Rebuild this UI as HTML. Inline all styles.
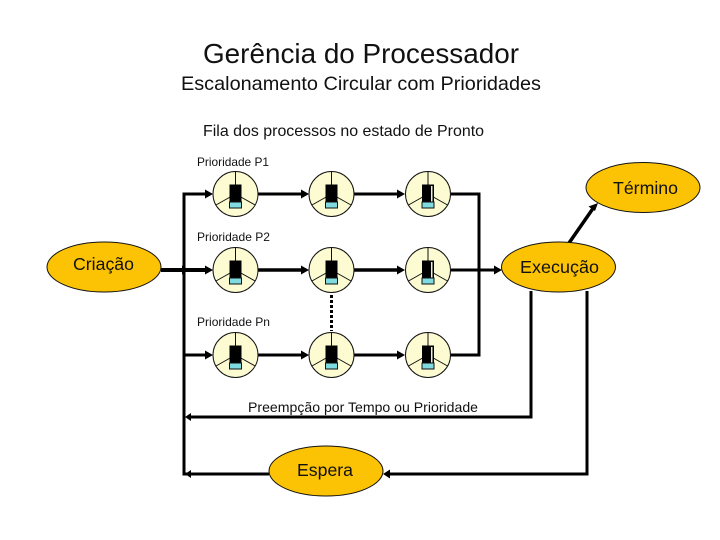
<!DOCTYPE html>
<html><head><meta charset="utf-8"><style>
html,body{margin:0;padding:0;background:#fff}
svg{display:block}
text{font-family:"Liberation Sans",sans-serif;fill:#111}
</style></head><body>
<svg width="720" height="540" viewBox="0 0 720 540" xmlns="http://www.w3.org/2000/svg">
<defs>
<g id="q">
<circle r="22.5" fill="#fdfbd2" stroke="#111" stroke-width="1"/>
<path d="M0,-22.5V0M0,0L-19.5,11M0,0L19.5,11" stroke="#111" stroke-width="1" fill="none"/>
<rect x="-6" y="-9.5" width="12" height="22" fill="#000"/>
<rect x="-6" y="8" width="12" height="6" fill="#7fdbe0" stroke="#111" stroke-width="1"/>
</g>
<g id="q3">
<circle r="22.5" fill="#fdfbd2" stroke="#111" stroke-width="1"/>
<path d="M0,-22.5V0M0,0L-19.5,11M0,0L19.5,11" stroke="#111" stroke-width="1" fill="none"/>
<rect x="-6" y="-9.5" width="12" height="22" fill="#000"/>
<rect x="3" y="-8" width="1.5" height="17" fill="#e8f4d8"/>
<rect x="-6" y="8" width="12" height="6" fill="#7fdbe0" stroke="#111" stroke-width="1"/>
</g>
</defs>

<g fill="none" stroke="#000" stroke-width="3">
<path d="M209,194H184V474H269"/>
<path d="M161,270H209" stroke-width="4"/>
<path d="M184,355H209"/>
<path d="M258,194H305M354,194H401"/>
<path d="M258,270H305M354,270H401" stroke-width="3.5"/>
<path d="M258,355H305M354,355H401"/>
<path d="M451,194H479V355H451"/>
<path d="M451,270H496"/>
<path d="M531,291V417H190"/>
<path d="M587,291V474H390"/>
<path d="M569,243L594,207" stroke-width="3.5"/>
<path d="M331.5,295V331" stroke-dasharray="3 2"/>
</g>
<g fill="#000">
<path d="M213,194l-8,-4.5v9z"/><path d="M309,194l-8,-4.5v9z"/><path d="M405,194l-8,-4.5v9z"/>
<path d="M213,270l-8,-4.5v9z"/><path d="M309,270l-8,-4.5v9z"/><path d="M405,270l-8,-4.5v9z"/>
<path d="M213,355l-8,-4.5v9z"/><path d="M309,355l-8,-4.5v9z"/><path d="M405,355l-8,-4.5v9z"/>
<path d="M189,270l-7,-4.5v9z"/>
<path d="M502,270l-8,-4.5v9z"/>
<path d="M185,417l6,-4v8z"/>
<path d="M185,474l6,-4v8z"/>
<path d="M383,474l7,-4.5v9z"/>
<path d="M598,203l-9.5,3.5l6.5,4.5z"/>
</g>

<use href="#q" x="235.5" y="194"/><use href="#q" x="331.5" y="194"/><use href="#q3" x="428" y="194"/>
<use href="#q" x="235.5" y="270"/><use href="#q" x="331.5" y="270"/><use href="#q3" x="428" y="270"/>
<use href="#q" x="235.5" y="355"/><use href="#q" x="331.5" y="355"/><use href="#q3" x="428" y="355"/>

<g fill="#fcc204" stroke="#111" stroke-width="1">
<ellipse cx="643" cy="187.5" rx="57" ry="25"/>
<ellipse cx="558.5" cy="267" rx="57" ry="25"/>
<ellipse cx="104" cy="267" rx="57" ry="25"/>
<ellipse cx="326" cy="471" rx="57" ry="25"/>
</g>

<text x="203" y="63" font-size="27.5" textLength="316" lengthAdjust="spacingAndGlyphs">Gerência do Processador</text>
<text x="181" y="90" font-size="19.5" textLength="360" lengthAdjust="spacingAndGlyphs">Escalonamento Circular com Prioridades</text>
<text x="203" y="136" font-size="16" textLength="281" lengthAdjust="spacingAndGlyphs">Fila dos processos no estado de Pronto</text>
<text x="197" y="166" font-size="12" textLength="72" lengthAdjust="spacingAndGlyphs">Prioridade P1</text>
<text x="197" y="241" font-size="12" textLength="73" lengthAdjust="spacingAndGlyphs">Prioridade P2</text>
<text x="197" y="326" font-size="12" textLength="73" lengthAdjust="spacingAndGlyphs">Prioridade Pn</text>
<text x="248" y="412" font-size="14" textLength="230" lengthAdjust="spacingAndGlyphs">Preempção por Tempo ou Prioridade</text>
<text x="613" y="194" font-size="17.5" textLength="65" lengthAdjust="spacingAndGlyphs">Término</text>
<text x="520" y="273" font-size="17.5" textLength="79" lengthAdjust="spacingAndGlyphs">Execução</text>
<text x="73" y="270" font-size="17.5" textLength="61" lengthAdjust="spacingAndGlyphs">Criação</text>
<text x="297" y="476" font-size="17.5" textLength="56" lengthAdjust="spacingAndGlyphs">Espera</text>
</svg>
</body></html>
